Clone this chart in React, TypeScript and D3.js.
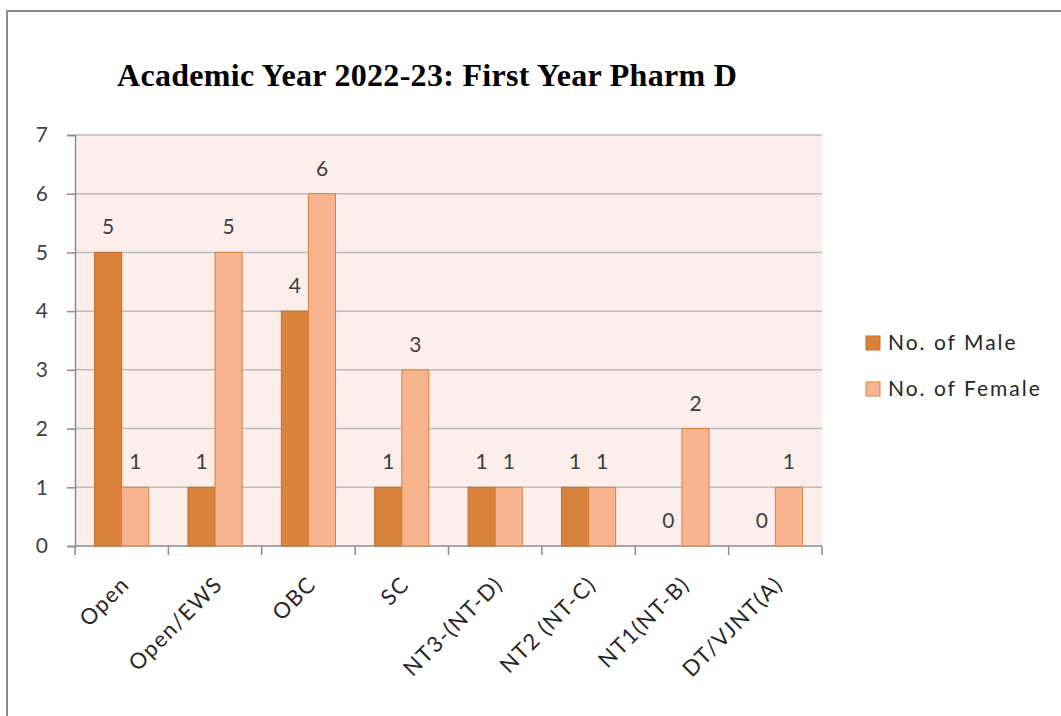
import * as d3 from "d3";
import { useEffect, useRef } from "react";

const categories = [
  "Open",
  "Open/EWS",
  "OBC",
  "SC",
  "NT3-(NT-D)",
  "NT2 (NT-C)",
  "NT1(NT-B)",
  "DT/VJNT(A)",
];
const maleCounts = [5, 1, 4, 1, 1, 1, 0, 0];
const femaleCounts = [1, 5, 6, 3, 1, 1, 2, 1];
const seriesNames = ["No. of Male", "No. of Female"];
const yTicks = [0, 1, 2, 3, 4, 5, 6, 7];

const colors = ["#D9823B", "#F8B48E"];
const strokes = ["#C46E2A", "#D9823B"];

export default function App() {
  const ref = useRef<SVGSVGElement>(null);

  useEffect(() => {
    const svg = d3.select(ref.current);
    svg.selectAll("*").remove();

    const W = 1061,
      H = 716;
    const margin = { top: 135, left: 75, right: 239, bottom: 170 };
    const width = W - margin.left - margin.right;
    const height = H - margin.top - margin.bottom;

    // outer frame (right and bottom edges fall outside the picture)
    svg
      .append("rect")
      .attr("x", 7)
      .attr("y", 11)
      .attr("width", W + 20)
      .attr("height", H + 20)
      .attr("fill", "#fff")
      .attr("stroke", "#8c8c8c")
      .attr("stroke-width", 2);

    svg
      .append("text")
      .attr("x", 117)
      .attr("y", 86)
      .attr("font-family", "'Liberation Serif', 'Times New Roman', serif")
      .attr("font-weight", "bold")
      .attr("font-size", "32px")
      .attr("letter-spacing", "0.3px")
      .attr("fill", "#000")
      .text("Academic Year 2022-23: First Year Pharm D");

    const g = svg
      .append("g")
      .attr("transform", `translate(${margin.left},${margin.top})`);

    const data = categories.map((c, i) => ({
      label: c,
      values: [maleCounts[i], femaleCounts[i]],
    }));

    const x0 = d3.scaleBand().domain(categories).range([0, width]).padding(0);
    const bw = x0.bandwidth();
    const x1 = d3
      .scaleBand<number>()
      .domain([0, 1])
      .range([bw * 0.21, bw * 0.79])
      .padding(0);
    const y = d3.scaleLinear().domain([0, 7]).range([height, 0]);

    g.append("rect")
      .attr("width", width)
      .attr("height", height)
      .attr("fill", "#FCEEEA");

    // gridlines
    g.selectAll(".grid")
      .data(yTicks.filter((t) => t > 0))
      .enter()
      .append("line")
      .attr("x1", 0)
      .attr("x2", width)
      .attr("y1", (d) => y(d))
      .attr("y2", (d) => y(d))
      .attr("stroke", "#BDBDBD")
      .attr("stroke-width", 1.5);

    const font = "Lato, 'Open Sans', sans-serif";

    // y axis
    const yAxis = g
      .append("g")
      .call(
        d3
          .axisLeft(y)
          .tickValues(yTicks)
          .tickFormat(d3.format("d"))
          .tickSize(8)
          .tickPadding(19)
      );
    yAxis.select(".domain").attr("stroke", "#8c8c8c").attr("stroke-width", 1.5);
    yAxis.selectAll(".tick line").attr("stroke", "#8c8c8c").attr("stroke-width", 1.5);
    yAxis
      .selectAll("text")
      .attr("font-family", font)
      .attr("font-size", "21px")
      .attr("fill", "#404040");

    // x axis: ticks at band edges
    const xAxis = g.append("g").attr("transform", `translate(0,${height})`);
    xAxis
      .append("line")
      .attr("x1", 0)
      .attr("x2", width)
      .attr("stroke", "#8c8c8c")
      .attr("stroke-width", 1.5);
    xAxis
      .selectAll(".xt")
      .data(d3.range(categories.length + 1))
      .enter()
      .append("line")
      .attr("x1", (i) => i * bw)
      .attr("x2", (i) => i * bw)
      .attr("y1", 0)
      .attr("y2", 9)
      .attr("stroke", "#8c8c8c")
      .attr("stroke-width", 1.5);
    xAxis
      .selectAll(".xl")
      .data(categories)
      .enter()
      .append("text")
      .attr(
        "transform",
        (d) => `translate(${(x0(d) ?? 0) + bw / 2 - 2},${29}) rotate(-45)`
      )
      .attr("text-anchor", "end")
      .attr("dy", "0.7em")
      .attr("font-family", font)
      .attr("font-size", "22px")
      .attr("letter-spacing", "1.4px")
      .attr("fill", "#262626")
      .text((d) => d);

    // bars
    const groups = g
      .selectAll(".grp")
      .data(data)
      .enter()
      .append("g")
      .attr("transform", (d) => `translate(${x0(d.label) ?? 0},0)`);

    groups
      .selectAll("rect")
      .data((d) => d.values.map((v, k) => ({ v, k })))
      .enter()
      .append("rect")
      .attr("x", (d) => x1(d.k) ?? 0)
      .attr("y", (d) => y(d.v))
      .attr("width", x1.bandwidth())
      .attr("height", (d) => height - y(d.v))
      .attr("fill", (d) => colors[d.k])
      .attr("stroke", (d) => (d.v > 0 ? strokes[d.k] : "none"))
      .attr("stroke-width", 1);

    groups
      .selectAll("text")
      .data((d) => d.values.map((v, k) => ({ v, k })))
      .enter()
      .append("text")
      .attr("x", (d) => (x1(d.k) ?? 0) + x1.bandwidth() / 2)
      .attr("y", (d) => y(d.v) - 18)
      .attr("text-anchor", "middle")
      .attr("font-family", font)
      .attr("font-size", "21px")
      .attr("fill", "#404040")
      .text((d) => d.v);

    // legend
    const legend = svg
      .selectAll(".lg")
      .data(seriesNames)
      .enter()
      .append("g")
      .attr("transform", (_, i) => `translate(866,${343 + i * 46})`);
    legend
      .append("rect")
      .attr("x", 0)
      .attr("y", -7)
      .attr("width", 14)
      .attr("height", 14)
      .attr("fill", (_, i) => colors[i])
      .attr("stroke", (_, i) => strokes[i]);
    legend
      .append("text")
      .attr("x", 22)
      .attr("dy", "0.35em")
      .attr("font-family", font)
      .attr("font-size", "21px")
      .attr("letter-spacing", "2px")
      .attr("fill", "#262626")
      .text((d) => d);
  }, []);

  return (
    <svg
      ref={ref}
      width={1061}
      height={716}
      style={{ position: "absolute", left: 0, top: 0 }}
    />
  );
}
